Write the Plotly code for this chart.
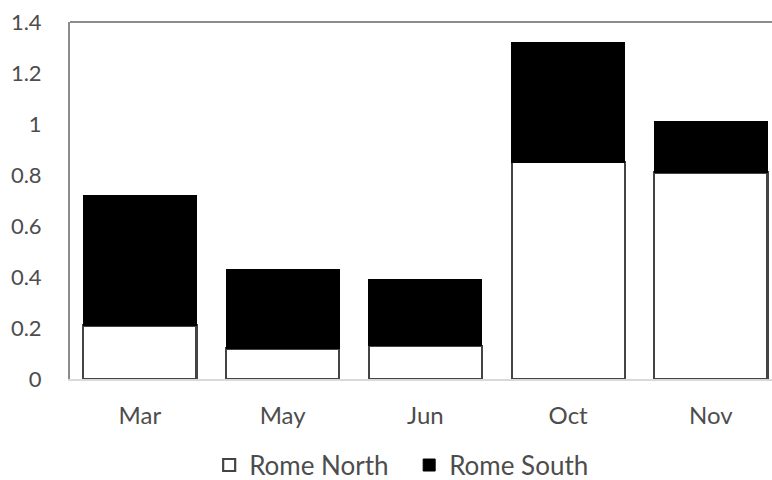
import plotly.graph_objects as go

# Monthly values per site
months = ["Mar", "May", "Jun", "Oct", "Nov"]
rome_north = [0.21, 0.12, 0.13, 0.85, 0.81]
rome_south = [0.51, 0.31, 0.26, 0.47, 0.20]

y_tick_vals = [0, 0.2, 0.4, 0.6, 0.8, 1.0, 1.2, 1.4]
y_tick_text = ["0", "0.2", "0.4", "0.6", "0.8", "1", "1.2", "1.4"]

TEXT = "#4d4d4d"
FONT = "Lato"

fig = go.Figure()
fig.add_bar(
    x=months, y=rome_north, name="Rome North",
    marker=dict(color="white", line=dict(color="#444444", width=2.2)),
)
fig.add_bar(
    x=months, y=rome_south, name="Rome South",
    marker=dict(color="black", line=dict(color="black", width=1)),
)

fig.update_layout(
    barmode="stack",
    bargap=0.208,
    width=772, height=480,
    margin=dict(l=70, r=0, t=22, b=101, pad=0),
    plot_bgcolor="white", paper_bgcolor="white",
    font=dict(family=FONT, color=TEXT),
    showlegend=True,
    legend=dict(
        orientation="h",
        xref="container", yref="container",
        x=0.53, xanchor="center",
        y=0.031, yanchor="middle",
        font=dict(size=26, color=TEXT),
        traceorder="normal",
        entrywidth=155,
    ),
)

fig.update_xaxes(
    range=[-0.4895, 4.428],
    showline=True, linecolor="#d9d9d9", linewidth=1.5,
    ticks="outside", ticklen=14, tickcolor="rgba(0,0,0,0)",
    tickfont=dict(size=24, color=TEXT),
    showgrid=False, zeroline=False,
)
fig.update_yaxes(
    range=[0, 1.4],
    tickvals=y_tick_vals, ticktext=y_tick_text,
    showline=True, linecolor="#8c8c8c", linewidth=2,
    ticks="outside", ticklen=22, tickcolor="rgba(0,0,0,0)",
    tickfont=dict(size=22, color=TEXT),
    showgrid=False, zeroline=False,
)

# Top frame line of the plot area
fig.add_shape(
    type="line", xref="paper", yref="paper",
    x0=0, x1=1, y0=1, y1=1,
    line=dict(color="#8c8c8c", width=2),
)

fig.write_html("out.html")
